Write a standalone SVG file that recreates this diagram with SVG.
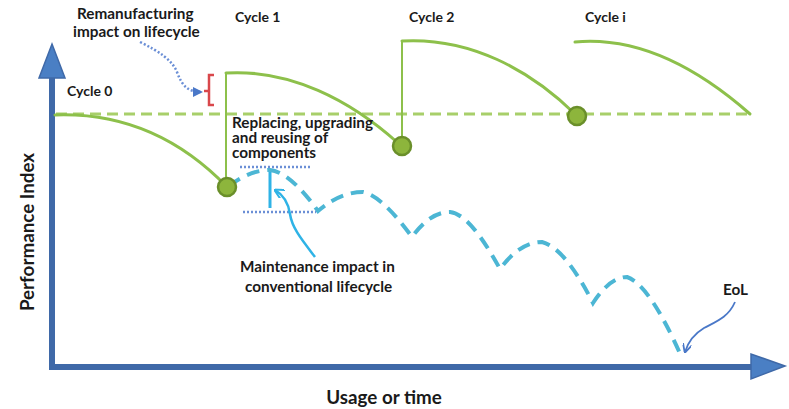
<svg xmlns="http://www.w3.org/2000/svg" width="789" height="409" viewBox="0 0 789 409">
<style>
.t{font-family:Lato,"Open Sans","Liberation Sans",sans-serif;font-weight:bold;fill:#1a1a1a}
.s{font-size:14px}
.m{font-size:15.3px}
.l{font-size:18.8px}
.g{fill:none;stroke:#8dc04b;stroke-width:3;stroke-linecap:round}
.gv{fill:none;stroke:#8dc04b;stroke-width:2}
.dot{fill:#8db53c;stroke:#6a8f2a;stroke-width:2.5}
.cy{fill:none;stroke:#4cb6d4;stroke-width:4;stroke-dasharray:13 8}
.bd{fill:none;stroke:#6b8fd6;stroke-width:2.5;stroke-dasharray:2 2}
</style>
<defs>
<marker id="ah" viewBox="0 0 10 10" refX="9" refY="5" markerWidth="4" markerHeight="4" orient="auto"><path d="M0,0 L10,5 L0,10 z" fill="#4a78c8"/></marker>
<marker id="ahc" viewBox="0 0 10 10" refX="9" refY="5" markerWidth="4" markerHeight="4" orient="auto"><path d="M0,0 L10,5 L0,10" fill="none" stroke="#2fb3e6" stroke-width="2"/></marker>
<marker id="ahb" viewBox="0 0 10 10" refX="9" refY="5" markerWidth="5" markerHeight="5" orient="auto"><path d="M0,0 L10,5 L0,10" fill="none" stroke="#4a78c8" stroke-width="2"/></marker>
</defs>
<rect width="789" height="409" fill="#fff"/>
<g id="axes">
<line x1="52" y1="75" x2="52" y2="367" stroke="#3f69a8" stroke-width="6"/>
<line x1="49" y1="367" x2="752" y2="367" stroke="#3f69a8" stroke-width="6"/>
<path d="M52,44 L65,78 L39,78 z" fill="#4a7fc4" stroke="#3f69a8" stroke-width="1.5"/>
<path d="M785,366 L751,354 L751,379 z" fill="#4a7fc4" stroke="#3f69a8" stroke-width="1.5"/>
</g>
<g id="baseline">
<line x1="56" y1="114" x2="752" y2="114" stroke="#a8cf6a" stroke-width="3" stroke-dasharray="11 6"/>
</g>
<g id="connectors">
<path class="g" d="M55,115 C110,113 170,128 227,187"/>
<line class="gv" x1="226" y1="187" x2="226" y2="73"/>
<path class="g" d="M226,73 C290,69 350,100 398,143"/>
<line class="gv" x1="402" y1="146" x2="402" y2="41"/>
<path class="g" d="M402,41 C470,37 530,70 575,114"/>
<path class="g" d="M575,42 C640,36 700,70 750,114"/>
<path class="cy" d="M229,186 Q250,170 270,170 Q290,172 318,211 Q340,192 363,192 Q382,196 412,237 Q430,212 450,212 Q470,214 500,269 Q520,242 542,242 Q565,248 593,303 Q610,277 627,277 Q650,285 682,358"/>
<line x1="240" y1="167" x2="312" y2="167" stroke="#6b8fd6" stroke-width="2.5" stroke-dasharray="2 2"/>
<line x1="243" y1="212" x2="316" y2="212" stroke="#6b8fd6" stroke-width="2.5" stroke-dasharray="2 2"/>
<line x1="270" y1="172" x2="270" y2="208" stroke="#2fb3e6" stroke-width="3"/>
<path d="M315,257 C302,240 292,228 290,214 C288,201 282,194 275,190" fill="none" stroke="#2fb3e6" stroke-width="2.5" marker-end="url(#ahc)"/>
<path class="bd" d="M140,42 C160,52 172,60 177,72 C182,86 188,92 202,92" marker-end="url(#ah)"/>
<path d="M214,75 L209,75 L209,105 L214,105 M209,91 L204,91" fill="none" stroke="#d9474b" stroke-width="2.5"/>
<path d="M735,302 C728,318 715,322 704,328 C694,334 688,342 685,352" fill="none" stroke="#4a78c8" stroke-width="1.8" marker-end="url(#ahb)"/>
</g>
<g id="dots">
<circle class="dot" cx="227" cy="187" r="9"/>
<circle class="dot" cx="402" cy="146" r="9"/>
<circle class="dot" cx="577" cy="116" r="9"/>
</g>
<g id="labels">
<text class="t m" x="77" y="19" font-size="15.5">Remanufacturing</text>
<text class="t m" x="73" y="37">impact on lifecycle</text>
<text class="t s" x="235" y="22">Cycle 1</text>
<text class="t s" x="409" y="22">Cycle 2</text>
<text class="t s" x="585" y="22">Cycle i</text>
<text class="t s" x="67" y="96">Cycle 0</text>
<text class="t m" x="232" y="128">Replacing, upgrading</text>
<text class="t m" x="232" y="143">and reusing of</text>
<text class="t m" x="232" y="158">components</text>
<text class="t m" x="240" y="272" font-size="16">Maintenance impact in</text>
<text class="t m" x="245" y="292" font-size="16">conventional lifecycle</text>
<text class="t m" x="723" y="295" font-size="16">EoL</text>
<text class="t l" x="384" y="404" text-anchor="middle">Usage or time</text>
<text class="t l" transform="translate(34,232) rotate(-90)" text-anchor="middle">Performance Index</text>
</g>
</svg>
